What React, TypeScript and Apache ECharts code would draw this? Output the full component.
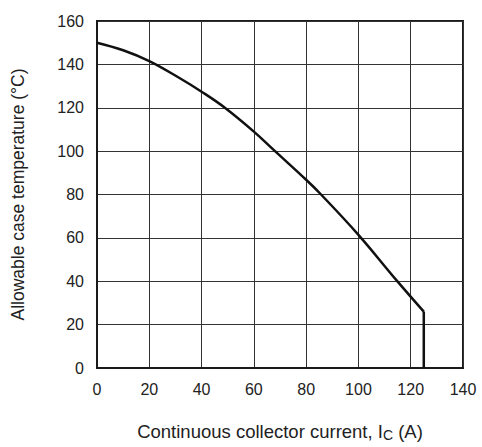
import React, { useEffect, useRef } from "react";
import * as echarts from "echarts";

const xTicks = [0, 20, 40, 60, 80, 100, 120, 140];
const yTicks = [0, 20, 40, 60, 80, 100, 120, 140, 160];
const currentA = [0, 10, 20, 31.7, 40, 48.9, 60, 68.1, 80, 85.7, 100, 114.6, 125];
const caseTempC = [150, 146.5, 141.5, 133.6, 127.4, 120, 109, 100, 86.8, 80, 61.4, 40.4, 26];
const cutoffA = [125, 125];
const cutoffTempC = [26, 0];

export default function App() {
  const ref = useRef<HTMLDivElement>(null);
  useEffect(() => {
    if (!ref.current) return;
    const chart = echarts.init(ref.current, null, { renderer: "svg" });
    const font = "'Liberation Sans', Arial, sans-serif";
    chart.setOption({
      animation: false,
      backgroundColor: "#ffffff",
      grid: {
        left: 97,
        right: 19,
        top: 21,
        bottom: 73,
        show: true,
        borderColor: "#1a1a1a",
        borderWidth: 2,
        backgroundColor: "transparent",
      },
      xAxis: {
        type: "value",
        min: xTicks[0],
        max: xTicks[xTicks.length - 1],
        interval: 20,
        name: "Continuous collector current, I{sub|C} (A)",
        nameLocation: "middle",
        nameGap: 52,
        nameTextStyle: {
          fontFamily: font,
          fontSize: 18.5,
          color: "#222",
          rich: {
            sub: { fontFamily: font, fontSize: 14, color: "#222", verticalAlign: "bottom", padding: [8, 0, 0, 0] },
          },
        },
        axisLine: { show: true, lineStyle: { color: "#1a1a1a", width: 2 } },
        axisTick: { show: false },
        axisLabel: { fontFamily: font, fontSize: 16, color: "#222", margin: 13 },
        splitLine: { show: true, lineStyle: { color: "#333", width: 1 } },
      },
      yAxis: {
        type: "value",
        min: yTicks[0],
        max: yTicks[yTicks.length - 1],
        interval: 20,
        name: "Allowable case temperature (°C)",
        nameLocation: "middle",
        nameGap: 70,
        nameTextStyle: { fontFamily: font, fontSize: 17.5, color: "#222" },
        axisLine: { show: true, lineStyle: { color: "#1a1a1a", width: 2 } },
        axisTick: { show: false },
        axisLabel: { fontFamily: font, fontSize: 16, color: "#222", margin: 13 },
        splitLine: { show: true, lineStyle: { color: "#333", width: 1 } },
      },
      series: [
        {
          type: "line",
          data: currentA.map((x, i) => [x, caseTempC[i]]),
          smooth: 0.4,
          showSymbol: false,
          lineStyle: { color: "#111", width: 2.5 },
        },
        {
          type: "line",
          data: cutoffA.map((x, i) => [x, cutoffTempC[i]]),
          showSymbol: false,
          lineStyle: { color: "#111", width: 2.5 },
        },
      ],
    });
    return () => chart.dispose();
  }, []);
  return (
    <div
      ref={ref}
      style={{ position: "fixed", left: 0, top: 0, width: 482, height: 447 }}
    />
  );
}
